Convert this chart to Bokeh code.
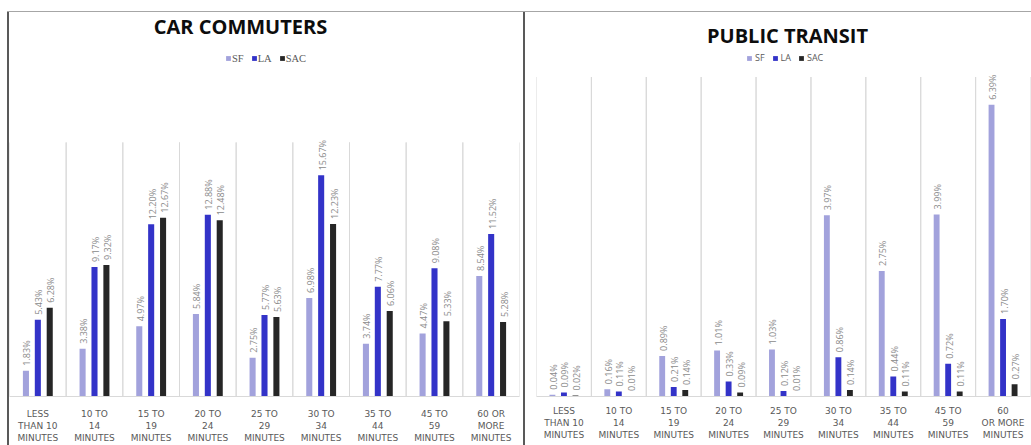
from math import pi

from bokeh.core.properties import value
from bokeh.embed import file_html
from bokeh.layouts import column, row
from bokeh.models import (ColumnDataSource, Div, FactorRange, Label, Legend,
                          LegendItem, Range1d)
from bokeh.plotting import figure
from bokeh.resources import INLINE
from bokeh.transform import dodge

# ---- data -------------------------------------------------------------
series = ["SF", "LA", "SAC"]

car_categories = [
    "LESS\nTHAN 10\nMINUTES", "10 TO\n14\nMINUTES", "15 TO\n19\nMINUTES",
    "20 TO\n24\nMINUTES", "25 TO\n29\nMINUTES", "30 TO\n34\nMINUTES",
    "35 TO\n44\nMINUTES", "45 TO\n59\nMINUTES", "60 OR\nMORE\nMINUTES",
]
car_sf = [1.83, 3.38, 4.97, 5.84, 2.75, 6.98, 3.74, 4.47, 8.54]
car_la = [5.43, 9.17, 12.20, 12.88, 5.77, 15.67, 7.77, 9.08, 11.52]
car_sac = [6.28, 9.32, 12.67, 12.48, 5.63, 12.23, 6.06, 5.33, 5.28]

transit_categories = [
    "LESS\nTHAN 10\nMINUTES", "10 TO\n14\nMINUTES", "15 TO\n19\nMINUTES",
    "20 TO\n24\nMINUTES", "25 TO\n29\nMINUTES", "30 TO\n34\nMINUTES",
    "35 TO\n44\nMINUTES", "45 TO\n59\nMINUTES", "60\nOR MORE\nMINUTES",
]
transit_sf = [0.04, 0.16, 0.89, 1.01, 1.03, 3.97, 2.75, 3.99, 6.39]
transit_la = [0.09, 0.11, 0.21, 0.33, 0.12, 0.86, 0.44, 0.72, 1.70]
transit_sac = [0.02, 0.01, 0.14, 0.09, 0.01, 0.14, 0.11, 0.11, 0.27]

# ---- styling ----------------------------------------------------------
COLORS = ["#a2a2dc", "#3333c8", "#262626"]
OFFSETS = [-0.21, 0.0, 0.21]
BAR_W = 0.107
GRID = "#d9d9d9"
TEXT_GRAY = "#595959"
LABEL_GRAY = "#8a8a8a"
EDGE = "#595959"
TOP_EDGE = "#a6a6a6"

FIG_H = 433          # height of each chart canvas
FRAME_BOTTOM = 393   # canvas y of the category baseline
AXIS_H = FIG_H - FRAME_BOTTOM


def panel(title, cats, vals, axis_max, axis_top_px, width, pad_left,
          pad_right, title_xy, legend_xy, legend_font, legend_size,
          legend_standoff, label_gap):
    # the frame runs from the canvas top down to the baseline; the value
    # axis maximum sits at axis_top_px below the canvas top
    y_end = axis_max * FRAME_BOTTOM / (FRAME_BOTTOM - axis_top_px)
    p = figure(width=width, height=FIG_H,
               x_range=FactorRange(factors=cats, range_padding=0),
               y_range=Range1d(0, y_end),
               output_backend="svg", toolbar_location=None,
               min_border_left=pad_left, min_border_right=pad_right,
               min_border_top=0, min_border_bottom=AXIS_H)
    p.yaxis.visible = False
    p.xgrid.visible = False
    p.ygrid.visible = False
    p.outline_line_color = None
    p.background_fill_color = "white"
    p.border_fill_color = "white"

    ax = p.xaxis[0]
    ax.axis_line_color = GRID
    ax.axis_line_width = 1
    ax.major_tick_line_color = None
    ax.minor_tick_line_color = None
    ax.major_label_standoff = label_gap
    ax.major_label_text_font = "DejaVu Sans"
    ax.major_label_text_font_size = "9px"
    ax.major_label_text_color = TEXT_GRAY

    # category separators up to the value-axis maximum
    sep = ColumnDataSource(dict(cat=cats))
    for side in (-0.5, 0.5):
        p.segment(x0=dodge("cat", side, range=p.x_range), y0=0,
                  x1=dodge("cat", side, range=p.x_range), y1=axis_max,
                  source=sep, line_color=GRID, line_width=1)

    items = []
    for name, v, color, off in zip(series, vals, COLORS, OFFSETS):
        src = ColumnDataSource(dict(cat=cats, val=v,
                                    lbl=[f"{x:.2f}%" for x in v]))
        r = p.vbar(x=dodge("cat", off, range=p.x_range), top="val",
                   width=BAR_W, source=src, fill_color=color,
                   line_color=None)
        p.text(x=dodge("cat", off, range=p.x_range), y="val", text="lbl",
               source=src, angle=pi / 2, text_align="left",
               text_baseline="middle", x_offset=1, y_offset=-5,
               text_font=value("Open Sans"), text_font_size="9px",
               text_color=LABEL_GRAY)
        items.append(LegendItem(label=name, renderers=[r]))

    legend = Legend(items=items, orientation="horizontal", location=legend_xy,
                    border_line_color=None, background_fill_alpha=0,
                    glyph_width=6, glyph_height=6,
                    label_standoff=legend_standoff, label_width=0,
                    spacing=7, padding=0, margin=0, label_height=12,
                    label_text_font=legend_font,
                    label_text_font_size=legend_size,
                    label_text_color=TEXT_GRAY)
    p.add_layout(legend, "center")

    p.add_layout(Label(x=title_xy[0], y=title_xy[1], x_units="canvas",
                       y_units="canvas", text=title, text_font="Open Sans",
                       text_font_style="bold", text_font_size="20px",
                       text_color="#0d0d0d", text_align="center",
                       text_baseline="middle"))
    return p


car = panel("CAR COMMUTERS", car_categories, [car_sf, car_la, car_sac],
            18, 133, 514, 0, 4, (231, 14), (216, 332),
            "Liberation Serif", "10.5px", 1, 6)

transit = panel("PUBLIC TRANSIT", transit_categories,
                [transit_sf, transit_la, transit_sac],
                7, 66, 506, 11, 1, (262, 23), (210, 332),
                "Open Sans", "9px", 3, 3)


def edge(w, h, color, margin=(0, 0, 0, 0)):
    return Div(text="", width=w, height=h, margin=margin,
               styles={"background-color": color})


charts = row(edge(2, FIG_H, EDGE, margin=(0, 0, 0, 7)), car,
             edge(2, FIG_H, EDGE), transit, spacing=0)
layout = column(edge(1024, 1, TOP_EDGE, margin=(11, 0, 0, 7)), charts,
                spacing=0)

with open("out.html", "w") as fh:
    fh.write(file_html(layout, INLINE))
